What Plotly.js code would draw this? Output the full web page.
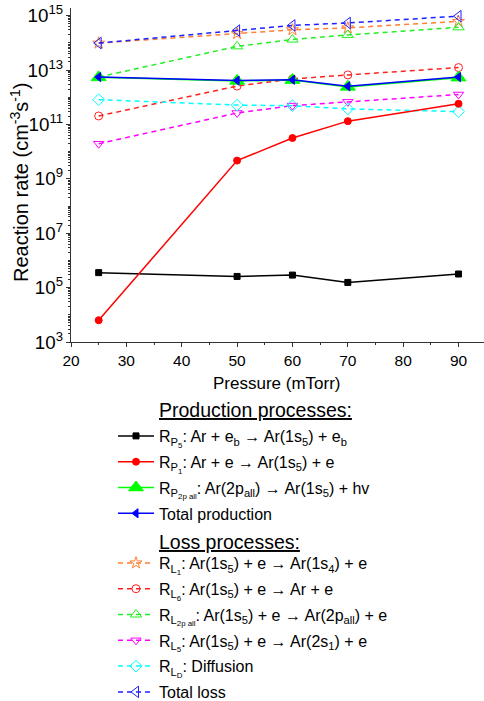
<!DOCTYPE html>
<html>
<head>
<meta charset="utf-8">
<script src="https://cdn.plot.ly/plotly-3.0.1.min.js"></script>
<style>html,body{margin:0;padding:0;background:#fff;}#chart{width:484px;height:701px;}</style>
</head>
<body>
<div id="chart"></div>
<script>
// Pressure (mTorr)
const pressure = [25, 50, 60, 70, 90];
// log10 of reaction rates
const logRP5   = [5.55, 5.41, 5.46, 5.19, 5.50];
const logRP1   = [3.80, 9.67, 10.50, 11.12, 11.76];
const logRP2p  = [12.73, 12.60, 12.63, 12.38, 12.72];
const logTotP  = [12.74, 12.61, 12.64, 12.40, 12.74];
const logRL1   = [13.99, 14.34, 14.48, 14.55, 14.79];
const logRL6   = [11.31, 12.41, 12.67, 12.82, 13.09];
const logRL2p  = [12.74, 13.87, 14.12, 14.29, 14.57];
const logRL5   = [10.29, 11.42, 11.69, 11.83, 12.10];
const logRLD   = [11.91, 11.71, 11.69, 11.57, 11.47];
const logTotL  = [13.99, 14.45, 14.64, 14.73, 14.98];

const names = {
  RP5: 'R<sub>P<sub>5</sub></sub>: Ar + e<sub>b</sub> → Ar(1s<sub>5</sub>) + e<sub>b</sub>',
  RP1: 'R<sub>P<sub>1</sub></sub>: Ar + e → Ar(1s<sub>5</sub>) + e',
  RP2p: 'R<sub>P<sub>2p all</sub></sub>: Ar(2p<sub>all</sub>) → Ar(1s<sub>5</sub>) + hv',
  TotP: 'Total production',
  RL1: 'R<sub>L<sub>1</sub></sub>: Ar(1s<sub>5</sub>) + e → Ar(1s<sub>4</sub>) + e',
  RL6: 'R<sub>L<sub>6</sub></sub>: Ar(1s<sub>5</sub>) + e → Ar + e',
  RL2p: 'R<sub>L<sub>2p all</sub></sub>: Ar(1s<sub>5</sub>) + e → Ar(2p<sub>all</sub>) + e',
  RL5: 'R<sub>L<sub>5</sub></sub>: Ar(1s<sub>5</sub>) + e → Ar(2s<sub>1</sub>) + e',
  RLD: 'R<sub>L<sub>D</sub></sub>: Diffusion',
  TotL: 'Total loss'
};
const xTitle = 'Pressure (mTorr)';
const yTitle = 'Reaction rate (cm<sup>-3</sup>s<sup>-1</sup>)';
const headProd = 'Production processes:';
const headLoss = 'Loss processes:';

const pw = v => v.map(l => Math.pow(10, l));
const dashP = '5px,4px';

function tr(y, name, color, dash, symbol, size, legend, lw) {
  return {
    x: pressure, y: pw(y), name: name, type: 'scatter', mode: 'lines+markers',
    line: {color: color, width: lw || 1.5, dash: dash},
    marker: {symbol: symbol, size: size, color: color, line: {color: color, width: 1}},
    legend: legend
  };
}

const data = [
  // loss (dashed)
  tr(logRL1, names.RL1, '#FF8033', dashP, 'star-open', 9, 'legend2'),
  tr(logRL6, names.RL6, '#FF2020', dashP, 'circle-open', 8, 'legend2'),
  tr(logRL2p, names.RL2p, '#22EE22', dashP, 'triangle-up-open', 10, 'legend2'),
  tr(logRL5, names.RL5, '#FF00FF', dashP, 'triangle-down-open', 9, 'legend2'),
  tr(logRLD, names.RLD, '#00FFFF', dashP, 'diamond-open', 9, 'legend2'),
  tr(logTotL, names.TotL, '#2020FF', dashP, 'triangle-left-open', 10, 'legend2'),
  // production (solid)
  tr(logRP5, names.RP5, '#000000', 'solid', 'square', 6, 'legend'),
  tr(logRP1, names.RP1, '#FF0000', 'solid', 'circle', 7, 'legend'),
  tr(logRP2p, names.RP2p, '#00FF00', 'solid', 'triangle-up', 13, 'legend'),
  tr(logTotP, names.TotP, '#0000FF', 'solid', 'triangle-left', 8, 'legend')
];

const order = [names.RP5, names.RP1, names.RP2p, names.TotP, names.RL1, names.RL6, names.RL2p, names.RL5, names.RLD, names.TotL];
data.forEach(t => { const k = order.indexOf(t.name) + 1; t.legendrank = k; t.legendgroup = 'g' + k; });

const W = 484, H = 701;
const mL = 71, mR = 0, mT = 8, mB = 359;
const pwid = W - mL - mR, phgt = H - mT - mB;
const px = x => (x - mL) / pwid;
const py = y => (H - mB - y) / phgt;

const font = 'Liberation Sans, Arial, sans-serif';

const layout = {
  width: W, height: H,
  margin: {l: mL, r: mR, t: mT, b: mB, autoexpand: false},
  paper_bgcolor: '#fff', plot_bgcolor: '#fff',
  font: {family: font, color: '#000', size: 15},
  showlegend: true,
  xaxis: {
    range: [20, 94.6], dtick: 10, tick0: 20,
    showline: true, linecolor: '#333', linewidth: 1,
    ticks: 'outside', ticklen: 4, tickcolor: '#333',
    minor: {dtick: 5, ticks: 'outside', ticklen: 2, tickcolor: '#333'},
    showgrid: false, zeroline: false, tickangle: 0,
    tickfont: {size: 15.5, family: font}
  },
  yaxis: {
    type: 'log', range: [3, 15.28], dtick: 2, tick0: 1,
    exponentformat: 'power', showexponent: 'all',
    showline: true, linecolor: '#333', linewidth: 1,
    ticks: 'outside', ticklen: 4, tickcolor: '#333',
    minor: {dtick: 'D1', ticks: 'outside', ticklen: 2, tickcolor: '#333'},
    showgrid: false, zeroline: false,
    tickfont: {size: 15, family: font}
  },
  legend: {
    xref: 'container', yref: 'container',
    x: 113 / W, y: 1 - 419 / H, xanchor: 'left', yanchor: 'top',
    bgcolor: 'rgba(0,0,0,0)', font: {size: 16, family: font},
    itemwidth: 36, tracegroupgap: 2, traceorder: 'grouped'
  },
  legend2: {
    xref: 'container', yref: 'container',
    x: 113 / W, y: 1 - 546 / H, xanchor: 'left', yanchor: 'top',
    bgcolor: 'rgba(0,0,0,0)', font: {size: 16, family: font},
    itemwidth: 36, tracegroupgap: 2, traceorder: 'grouped'
  },
  annotations: [
    {xref: 'paper', yref: 'paper', x: px(157), y: py(410), xanchor: 'left', yanchor: 'middle',
     text: '<u>' + headProd + '</u>', showarrow: false, font: {size: 19.5, family: font}},
    {xref: 'paper', yref: 'paper', x: px(157), y: py(542), xanchor: 'left', yanchor: 'middle',
     text: '<u>' + headLoss + '</u>', showarrow: false, font: {size: 19.5, family: font}},
    {xref: 'paper', yref: 'paper', x: px(277), y: py(383), xanchor: 'center', yanchor: 'middle',
     text: xTitle, showarrow: false, font: {size: 17, family: font}},
    {xref: 'paper', yref: 'paper', x: px(19), y: py(183), xanchor: 'center', yanchor: 'middle',
     text: yTitle, textangle: -90, showarrow: false, font: {size: 20, family: font}}
  ]
};

Plotly.newPlot('chart', data, layout, {displayModeBar: false, staticPlot: true});
</script>
</body>
</html>
